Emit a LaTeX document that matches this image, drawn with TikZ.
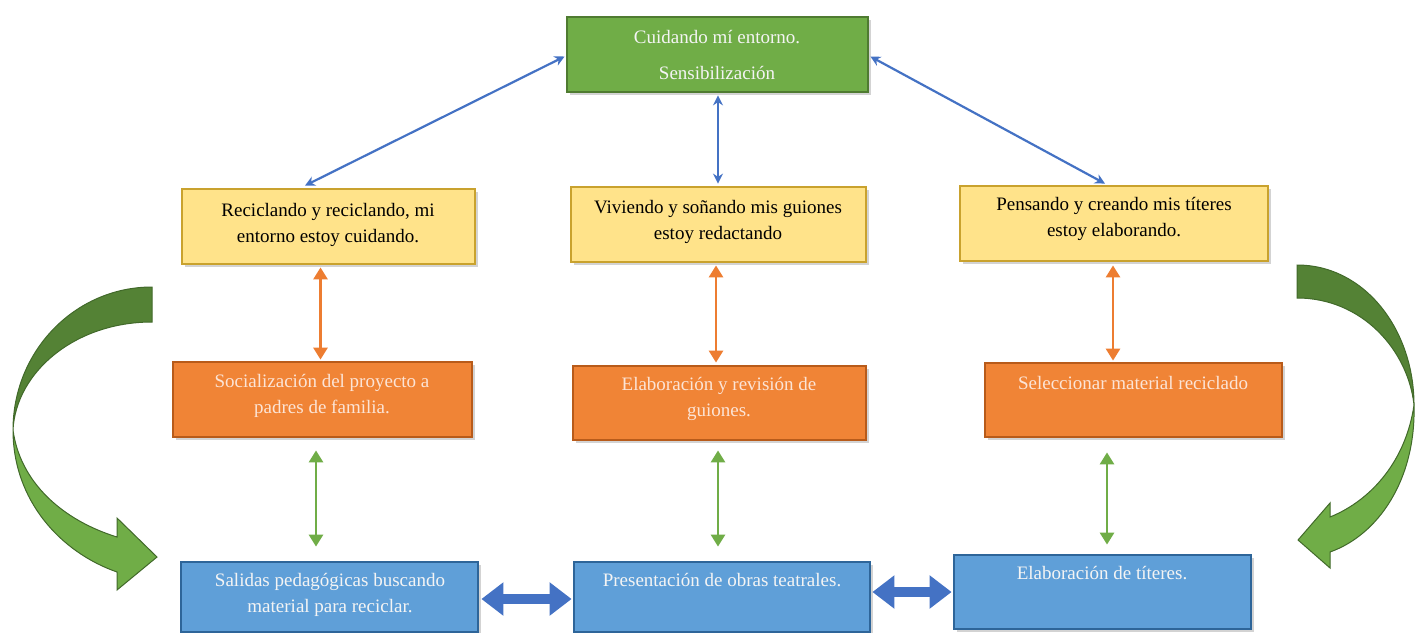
\documentclass[tikz,border=0pt]{standalone}
\usepackage{fontspec}
\setmainfont{Liberation Serif}
\newfontfamily\timesfont{Liberation Serif}
\usetikzlibrary{arrows.meta,shadows,calc}
\definecolor{gfill}{HTML}{70AD47}
\definecolor{gdraw}{HTML}{4F7B31}
\definecolor{gdark}{HTML}{548235}
\definecolor{gline}{HTML}{41692A}
\definecolor{yfill}{HTML}{FFE38A}
\definecolor{ydraw}{HTML}{C9A22E}
\definecolor{ofill}{HTML}{F08436}
\definecolor{odraw}{HTML}{B85B1A}
\definecolor{bfill}{HTML}{5F9FD8}
\definecolor{bdraw}{HTML}{2E6599}
\definecolor{barr}{HTML}{4472C4}
\definecolor{oarr}{HTML}{ED7D31}
\definecolor{garr}{HTML}{70AD47}
\definecolor{otext}{HTML}{FCE4D6}
\definecolor{wtext}{HTML}{F4F4F4}
\tikzset{
  boxbase/.style={rectangle, line width=1.4pt, inner sep=0pt,
    drop shadow={opacity=0.35, shadow xshift=1.5pt, shadow yshift=-1.5pt}},
  gbox/.style={boxbase, fill=gfill, draw=gdraw},
  ybox/.style={boxbase, fill=yfill, draw=ydraw},
  obox/.style={boxbase, fill=ofill, draw=odraw},
  bbox/.style={boxbase, fill=bfill, draw=bdraw},
  txt/.style={align=center, inner sep=0pt, font=\timesfont\fontsize{9.5pt}{13pt}\selectfont},
  barrow/.style={draw=barr, line width=1.1pt, {Stealth[length=5pt,width=5pt]}-{Stealth[length=5pt,width=5pt]}},
  oarrow/.style={draw=oarr, line width=1.4pt, {Triangle[length=6pt,width=7pt]}-{Triangle[length=6pt,width=7pt]}},
  garrow/.style={draw=garr, line width=1.4pt, {Triangle[length=6pt,width=7pt]}-{Triangle[length=6pt,width=7pt]}},
  thickarrow/.style={draw=barr, line width=5pt, {Triangle[length=11pt,width=16pt]}-{Triangle[length=11pt,width=16pt]}},
}
\begin{document}
\begin{tikzpicture}[x=0.5pt,y=-0.5pt]
\useasboundingbox (0,0) rectangle (1416,632);
% boxes
\node[gbox, minimum width=150.5pt, minimum height=37.5pt] (g) at (717.5,54.5) {};
\node[ybox, minimum width=146.5pt, minimum height=37.5pt] (yL) at (328.5,226.5) {};
\node[ybox, minimum width=147.5pt, minimum height=37.5pt] (yM) at (718.5,224.5) {};
\node[ybox, minimum width=154pt, minimum height=37.5pt] (yR) at (1114,223.5) {};
\node[obox, minimum width=149.5pt, minimum height=37.5pt] (oL) at (322.5,399.5) {};
\node[obox, minimum width=146.5pt, minimum height=37pt] (oM) at (719.5,403) {};
\node[obox, minimum width=148.5pt, minimum height=37pt] (oR) at (1133.5,400) {};
\node[bbox, minimum width=148.5pt, minimum height=35pt] (bL) at (329.5,597) {};
\node[bbox, minimum width=148pt, minimum height=35pt] (bM) at (722,597) {};
\node[bbox, minimum width=148.5pt, minimum height=37pt] (bR) at (1102.5,592) {};
% texts
\node[txt, text=wtext] (tg) at (717,55) {Cuidando mí entorno.\\[5pt]Sensibilización};
\node[txt] (tyL) at (328,225) {Reciclando y reciclando, mi\\entorno estoy cuidando.};
\node[txt] (tyM) at (718,222) {Viviendo y soñando mis guiones\\estoy redactando};
\node[txt] (tyR) at (1114,219) {Pensando y creando mis títeres\\estoy elaborando.};
\node[txt, text=otext] (toL) at (322,396) {Socialización del proyecto a\\padres de familia.};
\node[txt, text=otext] (toM) at (719,399) {Elaboración y revisión de\\guiones.};
\node[txt, text=otext] (toR) at (1133,383) {Seleccionar material reciclado};
\node[txt, text=wtext] (tbL) at (330,595) {Salidas pedagógicas buscando\\material para reciclar.};
\node[txt, text=wtext] (tbM) at (722,580) {Presentación de obras teatrales.};
\node[txt, text=wtext] (tbR) at (1102,573) {Elaboración de títeres.};
% thin blue connectors
\draw[barrow] ($(g.west)+(-1,2)$) -- ($(yL.north)+(-23.5,-2)$);
\draw[barrow] ($(g.south)+(0.5,2)$) -- ($(yM.north)+(-0.5,-2)$);
\draw[barrow] ($(g.east)+(1,2)$) -- ($(yR.north)+(-9,-1)$);
% orange connectors
\draw[oarrow] ($(yL.south)+(-8,2)$) -- ($(oL.north)+(-2,-1)$);
\draw[oarrow] ($(yM.south)+(-2.5,2)$) -- ($(oM.north)+(-3.5,-2)$);
\draw[oarrow] ($(yR.south)+(-1,3)$) -- ($(oR.north)+(-20.5,-1)$);
% green connectors
\draw[garrow] ($(oL.south)+(-6.5,12)$) -- ($(bL.north)+(-13.5,-14)$);
\draw[garrow] ($(oM.south)+(-1.5,9)$) -- ($(bM.north)+(-4,-14)$);
\draw[garrow] ($(oR.south)+(-26.5,14)$) -- ($(bR.north)+(4.5,-9)$);
% thick blue connectors
\draw[thickarrow] ($(bL.east)+(2,2)$) -- ($(bM.west)+(-1,2)$);
\draw[thickarrow] ($(bM.east)+(1,-5)$) -- ($(bR.west)+(-1,0)$);
% left curved arrow
\fill[gdark, draw=gline, line width=0.5pt] (152,287) .. controls (75,287) and (13,351) .. (13,430)
  .. controls (16,372) and (75,322) .. (152,322) -- cycle;
\fill[gfill, draw=gline, line width=0.5pt] (13,430) .. controls (13,500) and (60,552) .. (117,572)
  -- (117,590) -- (157,557) -- (117,518) -- (117,537)
  .. controls (62,520) and (20,482) .. (13,430) -- cycle;
% right curved arrow
\fill[gdark, draw=gline, line width=0.5pt] (1297,265) .. controls (1365,265) and (1414,330) .. (1414,405)
  .. controls (1408,350) and (1362,298) .. (1297,298) -- cycle;
\fill[gfill, draw=gline, line width=0.5pt] (1414,405) .. controls (1416,480) and (1378,535) .. (1330,552)
  -- (1330,568) -- (1298,540) -- (1330,503) -- (1330,517)
  .. controls (1372,500) and (1406,460) .. (1414,405) -- cycle;
\end{tikzpicture}
\end{document}
